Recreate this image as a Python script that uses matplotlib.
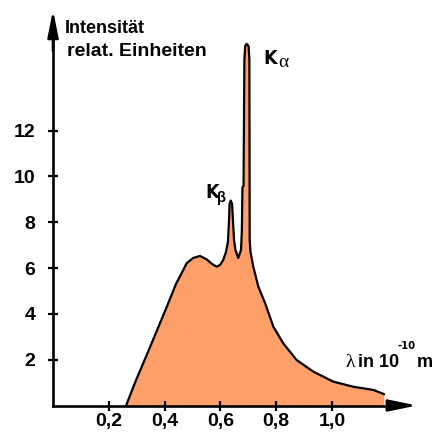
import matplotlib
matplotlib.use("Agg")
import matplotlib.pyplot as plt
from matplotlib import font_manager as fm

# Spectrum (wavelength in 1e-10 m, intensity in relative units)
wavelength = [0.262, 0.297, 0.333, 0.369, 0.4075, 0.441, 0.467, 0.479, 0.502, 0.527,
              0.551, 0.570, 0.587, 0.599, 0.610, 0.620, 0.627, 0.631, 0.633, 0.637,
              0.642, 0.645, 0.649, 0.654, 0.664, 0.674, 0.677, 0.679, 0.683, 0.686,
              0.689, 0.694, 0.701, 0.704, 0.705, 0.708, 0.718, 0.736, 0.760, 0.790,
              0.825, 0.873, 0.933, 1.005, 1.076, 1.148, 1.186]
intensity = [0.0, 1.09, 2.12, 3.17, 4.30, 5.31, 5.92, 6.21, 6.44, 6.53,
             6.38, 6.18, 6.06, 6.14, 6.35, 6.70, 7.14, 8.10, 8.80, 8.95,
             8.80, 8.10, 7.23, 6.79, 6.44, 6.79, 7.66, 9.50, 9.60, 15.09,
             15.70, 15.79, 15.70, 15.09, 7.23, 6.70, 6.06, 5.19, 4.48, 3.44,
             2.72, 1.99, 1.48, 1.04, 0.82, 0.68, 0.50]

x_ticks = [0.2, 0.4, 0.6, 0.8, 1.0]
x_tick_labels = ["0,2", "0,4", "0,6", "0,8", "1,0"]
y_ticks = [2, 4, 6, 8, 10, 12]
y_tick_labels = ["2", "4", "6", "8", "10", "12"]

fill_color = "#FFA06A"


def find_condensed_bold():
    best = None
    for f in fm.fontManager.ttflist:
        n = f.name.lower()
        fn = f.fname.lower()
        if ("narrow" in n or "condensed" in n or "narrow" in fn or "condensed" in fn) \
                and ("bold" in fn or (isinstance(f.weight, int) and f.weight >= 600)
                     or f.weight == "bold") and "italic" not in fn and "oblique" not in fn:
            if "liberation" in n:
                return fm.FontProperties(fname=f.fname)
            if best is None:
                best = f.fname
    if best:
        return fm.FontProperties(fname=best)
    return None


cond = find_condensed_bold()


def cond_font(size, fallback_size):
    if cond is not None:
        p = cond.copy()
        p.set_size(size)
        return p
    return fm.FontProperties(family="Liberation Sans", weight="bold", size=fallback_size)


fig = plt.figure(figsize=(4.43, 4.32), dpi=100)
ax = fig.add_axes([0, 0, 1, 1])
ax.set_xlim(-0.19, 1.398)
ax.set_ylim(-1.157, 17.707)

ax.fill_between(wavelength, 0, intensity, color=fill_color, linewidth=0, zorder=1)
ax.plot(wavelength, intensity, color="black", lw=1.6, solid_joinstyle="round", zorder=2)

for s in ("top", "right"):
    ax.spines[s].set_visible(False)
for s in ("left", "bottom"):
    ax.spines[s].set_position(("data", 0))
    ax.spines[s].set_linewidth(1.9)
    ax.spines[s].set_zorder(3)
ax.spines["left"].set_bounds(0, 16.8)
ax.spines["bottom"].set_bounds(0, 1.25)

ax.set_xticks(x_ticks)
ax.set_xticklabels(x_tick_labels)
ax.set_yticks(y_ticks)
ax.set_yticklabels(y_tick_labels)
tick_fp = fm.FontProperties(family="Liberation Sans", weight="bold", size=14)
for lab in ax.get_xticklabels() + ax.get_yticklabels():
    lab.set_fontproperties(tick_fp)
ax.tick_params(axis="both", direction="inout", length=7.5, width=1.6, colors="black")
ax.tick_params(axis="x", pad=2.0)
ax.tick_params(axis="y", pad=9)

# arrows
ax.annotate("", xy=(0, 17.27), xytext=(0, 15.5),
            arrowprops=dict(arrowstyle="-|>,head_length=1.6,head_width=0.32",
                            color="black", lw=1.9, shrinkA=0, shrinkB=0))
ax.annotate("", xy=(1.305, 0), xytext=(1.2, 0),
            arrowprops=dict(arrowstyle="-|>,head_length=1.7,head_width=0.35",
                            color="black", lw=1.9, shrinkA=0, shrinkB=0))

# labels
ax.text(0.043, 16.27, "Intensität", family="Liberation Sans", weight="bold",
        fontsize=13, va="baseline", ha="left")
ax.text(0.050, 15.26, "relat. Einheiten", family="Liberation Sans", weight="bold",
        fontsize=14, va="baseline", ha="left")
ax.text(0.753, 14.92, "K", fontproperties=cond_font(14, 13),
        va="baseline", ha="left")
ax.text(0.806, 14.8, "α", family="Liberation Serif", fontsize=14,
        va="baseline", ha="left")
ax.text(0.545, 9.05, "K", fontproperties=cond_font(14, 13),
        va="baseline", ha="left")
ax.text(0.589, 8.9, "β", family="Liberation Sans", weight="bold", fontsize=10.5,
        va="baseline", ha="left")
ax.text(1.047, 1.68, "λ", family="Liberation Serif", fontsize=14,
        va="baseline", ha="left")
ax.text(1.093, 1.68, "in 10", family="Liberation Sans", weight="bold", fontsize=13,
        va="baseline", ha="left")
ax.text(1.235, 2.45, "-10", fontproperties=cond_font(8, 7),
        va="baseline", ha="left")
ax.text(1.305, 1.68, "m", family="Liberation Sans", weight="bold", fontsize=13,
        va="baseline", ha="left")

fig.savefig("out.png", dpi=100)
